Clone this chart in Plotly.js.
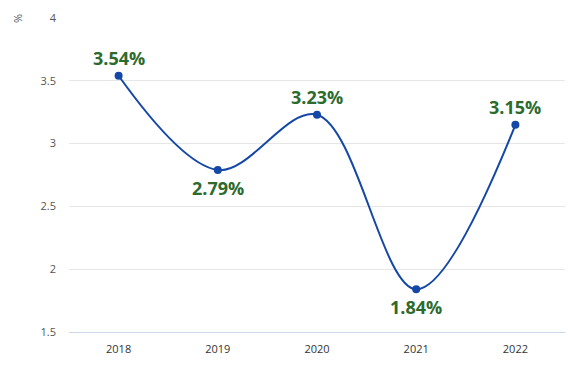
<!DOCTYPE html>
<html><head><meta charset="utf-8">
<script src="https://cdn.plot.ly/plotly-3.0.1.min.js"></script>
<style>html,body{margin:0;padding:0;background:#fff}#c{width:580px;height:377px}</style>
</head><body><div id="c"></div>
<script>
const years = ['2018','2019','2020','2021','2022'];
const values = [3.54, 2.79, 3.23, 1.84, 3.15];
const labelSide = [1, -1, 1, -1, 1];
const yTicks = [1.5, 2, 2.5, 3, 3.5, 4];
const yTickText = ['1.5','2','2.5','3','3.5','4'];

const trace = {
  x: years, y: values, type: 'scatter', mode: 'lines+markers',
  line: {color: '#1447a6', width: 2, shape: 'spline', smoothing: 1},
  marker: {color: '#1447a6', size: 8},
  cliponaxis: false, hoverinfo: 'none'
};
const labelAnns = years.map((yr, i) => ({
  x: i, y: values[i], xref: 'x', yref: 'y', showarrow: false,
  text: '<b>' + values[i].toFixed(2) + '%</b>',
  yshift: labelSide[i] * 18, yanchor: 'middle', xanchor: 'center',
  font: {family: 'Open Sans, sans-serif', size: 18, color: '#2d6a2d'}
}));
const layout = {
  width: 580, height: 377,
  margin: {l: 69, r: 15, t: 18, b: 45},
  paper_bgcolor: '#fff', plot_bgcolor: '#fff',
  font: {family: 'Open Sans, sans-serif'},
  showlegend: false,
  xaxis: {type: 'category', range: [-0.5, 4.5], showgrid: false, zeroline: false,
    showline: true, linecolor: '#ccd6eb', linewidth: 1,
    tickfont: {size: 11, color: '#333'}, ticks: '', ticklen: 0, ticklabelstandoff: 7},
  yaxis: {range: [1.5, 4], tickvals: yTicks, ticktext: yTickText, showgrid: true,
    gridcolor: '#e6e6e6', zeroline: false, showline: false,
    tickfont: {size: 11, color: '#555'}, ticklabelstandoff: 12},
  annotations: labelAnns.concat([{text: '%', xref: 'paper', yref: 'paper', x: -0.105, y: 1.0,
    showarrow: false, textangle: -90, font: {size: 11, color: '#555'}, xanchor: 'center', yanchor: 'middle'}])
};
Plotly.newPlot('c', [trace], layout, {displayModeBar: false, staticPlot: true});
</script></body></html>
